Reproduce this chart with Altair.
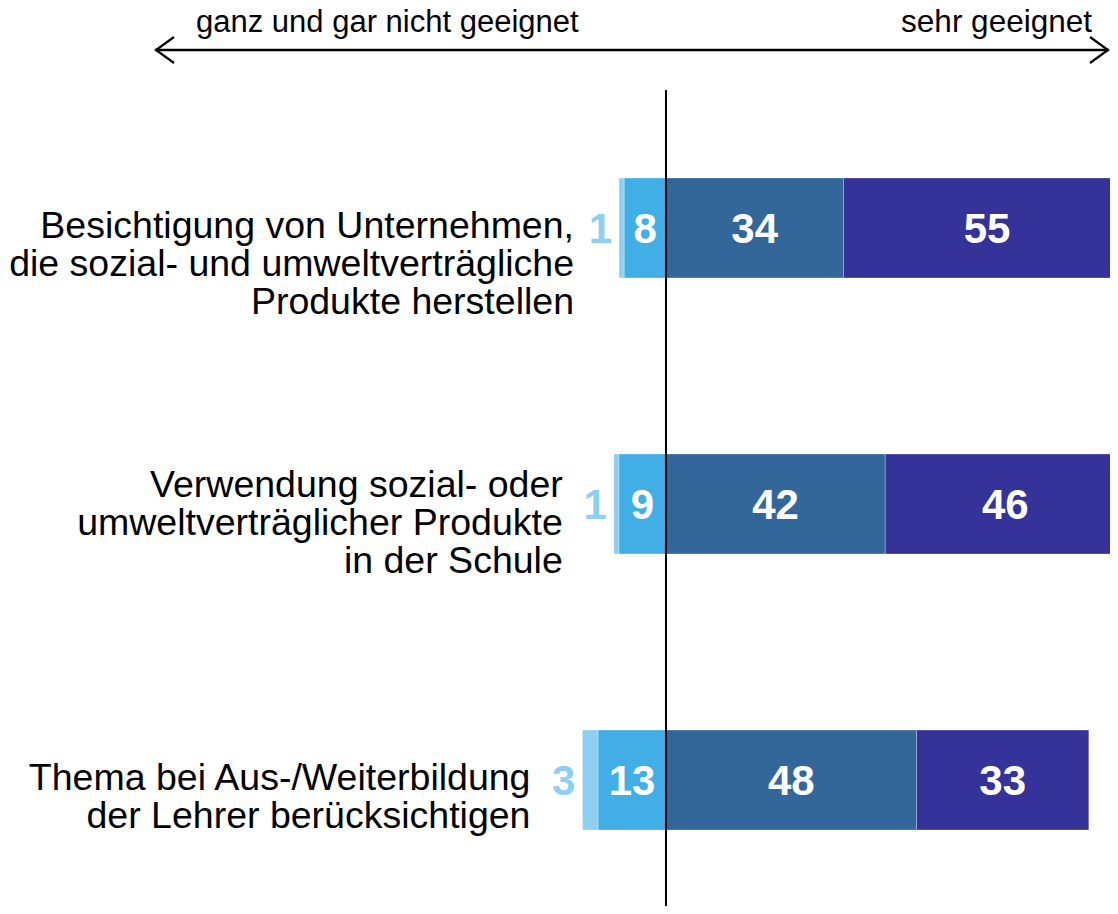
import altair as alt
import pandas as pd

# ---- data ----
categories = [
    "Besichtigung von Unternehmen,\ndie sozial- und umweltverträgliche\nProdukte herstellen",
    "Verwendung sozial- oder\numweltverträglicher Produkte\nin der Schule",
    "Thema bei Aus-/Weiterbildung\nder Lehrer berücksichtigen",
]
levels = ["ganz und gar nicht geeignet", "eher nicht geeignet", "eher geeignet", "sehr geeignet"]
v_gar_nicht = [1, 1, 3]
v_eher_nicht = [8, 9, 13]
v_eher = [34, 42, 48]
v_sehr = [55, 46, 33]
scale_left = "ganz und gar nicht geeignet"
scale_right = "sehr geeignet"

colors = ["#8ECFF1", "#41AEE6", "#336799", "#35339A"]
FONT = "Liberation Sans"

rows = []
for i, cat in enumerate(categories):
    a, b, c, d = v_gar_nicht[i], v_eher_nicht[i], v_eher[i], v_sehr[i]
    segs = [(-(a + b), -b, a), (-b, 0, b), (0, c, c), (c, c + d, d)]
    for lev, (s, e, v) in zip(levels, segs):
        rows.append({"row": i, "cat": cat, "level": lev, "start": s, "end": e,
                     "mid": (s + e) / 2, "value": v})
df = pd.DataFrame(rows)

W, H = 1102, 898
xscale = alt.Scale(domain=[-126.05, 85.06], range=[0, W], zero=False, nice=False)
yscale = alt.Scale(domain=categories, range=[170, 822], paddingInner=0.638, paddingOuter=0)

base = alt.Chart(df)
X = lambda f: alt.X(f, scale=xscale, axis=None, title=None)
Y = alt.Y("cat:N", scale=yscale, axis=None, sort=categories, title=None)

bars = base.mark_bar(clip=True, stroke="#ffffff", strokeWidth=0.8, strokeOpacity=0.35).encode(
    x=X("start:Q"), x2="end:Q", y=Y,
    color=alt.Color("level:N", scale=alt.Scale(domain=levels, range=colors), legend=None),
)

inner = base.transform_filter(alt.datum.level != levels[0]).mark_text(
    font=FONT, fontSize=42, fontWeight="bold", color="white", baseline="middle", dy=2
).encode(x=X("mid:Q"), y=Y, text="value:Q")

outer = base.transform_filter(alt.datum.level == levels[0]).mark_text(
    font=FONT, fontSize=42, fontWeight="bold", color=colors[0], baseline="middle",
    align="right", dx=-7, dy=2
).encode(x=X("start:Q"), y=Y, text="value:Q")

label_dx = [-45, -51, -52]
label_dy = [-1, -18, -1]
cat_layers = []
for i, (dx, dy) in enumerate(zip(label_dx, label_dy)):
    cat_layers.append(
        base.transform_filter(alt.FieldEqualPredicate(field="row", equal=i))
        .transform_filter(alt.datum.level == levels[0])
        .mark_text(font=FONT, fontSize=37.5, lineHeight=38, color="black", align="right",
                   baseline="middle", lineBreak="\n", dx=dx, dy=dy)
        .encode(x=X("start:Q"), y=Y, text="cat:N")
    )

one = alt.Chart(pd.DataFrame({"k": [0]}))
center = one.mark_rule(color="black", strokeWidth=2).encode(
    x=alt.datum(0, scale=xscale), y=alt.value(82), y2=alt.value(H)
)
arrow = one.mark_rule(color="black", strokeWidth=2.5).encode(
    x=alt.value(147), x2=alt.value(1101), y=alt.value(42)
)
head_l = one.mark_point(shape="M1.385,-1L0,0L1.385,1", size=676, filled=False,
                        color="black", strokeWidth=2.2, opacity=1).encode(
    x=alt.value(148), y=alt.value(42))
head_r = one.mark_point(shape="M-1.385,-1L0,0L-1.385,1", size=676, filled=False,
                        color="black", strokeWidth=2.2, opacity=1).encode(
    x=alt.value(1100), y=alt.value(42))
txt_l = one.mark_text(font=FONT, fontSize=31, align="left", baseline="alphabetic",
                      color="black").encode(x=alt.value(188), y=alt.value(24),
                                            text=alt.value(scale_left))
txt_r = one.mark_text(font=FONT, fontSize=31.5, align="right", baseline="alphabetic",
                      color="black").encode(x=alt.value(1084), y=alt.value(24),
                                            text=alt.value(scale_right))

chart = alt.layer(bars, inner, outer, *cat_layers, center, arrow, head_l, head_r, txt_l, txt_r).properties(
    width=W, height=H, padding=0, autosize=alt.AutoSizeParams(type="none"), background="white"
).configure_view(stroke=None)

chart.save("out.html", embed_options={"renderer": "svg", "actions": False})
